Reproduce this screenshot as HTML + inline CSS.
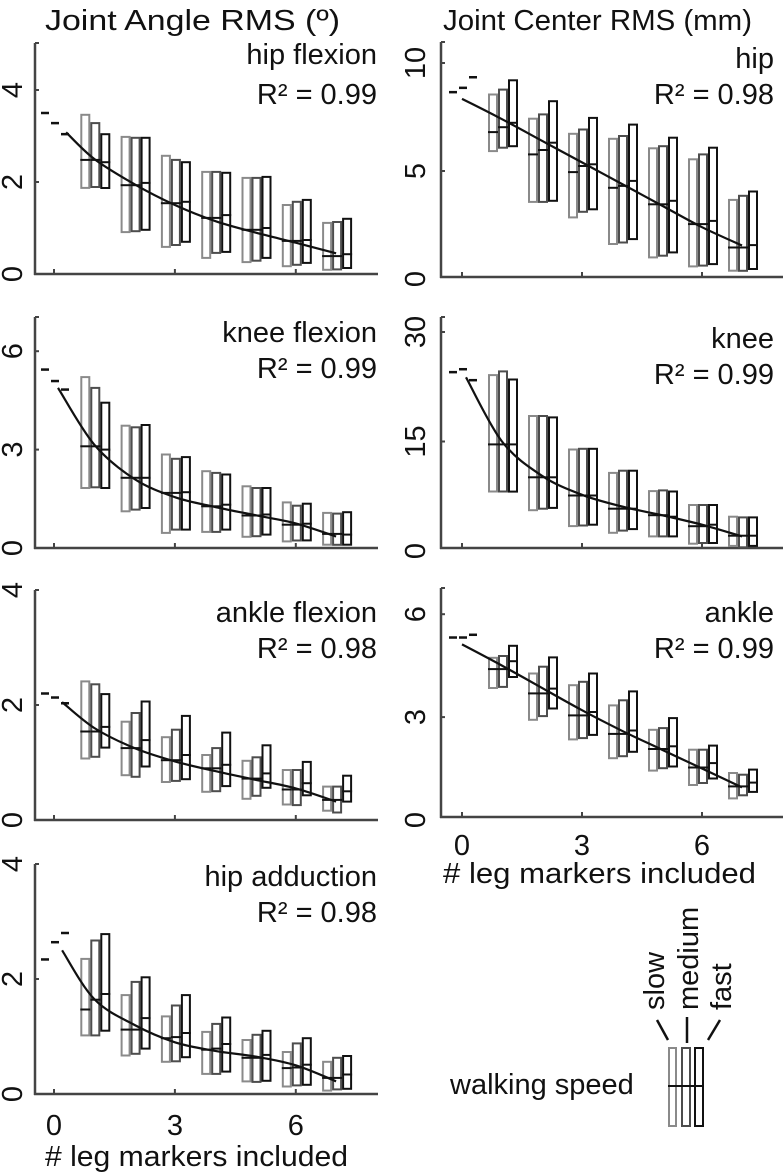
<!DOCTYPE html>
<html><head><meta charset="utf-8">
<style>
html,body{margin:0;padding:0;background:#fff;}
svg{display:block;font-family:"Liberation Sans",Arial,sans-serif;}
</style></head>
<body>
<svg id="fig" width="784" height="1173" viewBox="0 0 784 1173" xmlns="http://www.w3.org/2000/svg">
<text x="45" y="30" font-size="29" textLength="295" lengthAdjust="spacingAndGlyphs" fill="#111">Joint Angle RMS (º)</text>
<text x="443" y="30" font-size="29" textLength="309" lengthAdjust="spacingAndGlyphs" fill="#111">Joint Center RMS (mm)</text>
<g id="panels"></g>
<g>
  <text x="450" y="1094" font-size="29" fill="#111">walking speed</text>
  <rect x="669" y="1048" width="7" height="78" fill="none" stroke="#8a8a8a" stroke-width="2"/>
  <rect x="682" y="1048" width="8" height="78" fill="none" stroke="#4d4d4d" stroke-width="2"/>
  <rect x="695" y="1048" width="8" height="78" fill="none" stroke="#111" stroke-width="2"/>
  <line x1="668" y1="1086" x2="704" y2="1086" stroke="#111" stroke-width="2"/>
  <line x1="657" y1="1020" x2="668" y2="1040" stroke="#111" stroke-width="2.5"/>
  <line x1="687" y1="1017" x2="687" y2="1043" stroke="#111" stroke-width="2.5"/>
  <line x1="720" y1="1020" x2="708" y2="1040" stroke="#111" stroke-width="2.5"/>
  <text transform="translate(664,1010) rotate(-90)" font-size="29" fill="#111">slow</text>
  <text transform="translate(698,1010) rotate(-90)" font-size="29" fill="#111">medium</text>
  <text transform="translate(731,1010) rotate(-90)" font-size="29" fill="#111">fast</text>
</g>
</svg>
<script>
// ---- data: [low, high, median] per marker count 1..7 ----
const groups = [1,2,3,4,5,6,7];
const hipFlexSlow = [[1.87,3.46,2.48],[0.91,2.98,1.93],[0.59,2.57,1.54],[0.35,2.22,1.22],[0.26,2.09,0.96],[0.17,1.50,0.72],[0.09,1.11,0.39]];
const hipFlexMed  = [[1.89,3.28,2.48],[0.93,2.96,1.93],[0.63,2.48,1.54],[0.46,2.22,1.22],[0.29,2.09,0.96],[0.20,1.57,0.72],[0.10,1.13,0.39]];
const hipFlexFast = [[1.87,3.04,2.43],[0.96,2.96,1.98],[0.70,2.43,1.57],[0.48,2.20,1.28],[0.35,2.11,1.00],[0.24,1.61,0.74],[0.13,1.20,0.43]];
const hipFlexZero = [3.50,3.28,3.04];
const hipFlexFitX = [0.3,1,2,3,4,5,6,7];
const hipFlexFit  = [3.08,2.5,1.95,1.5,1.15,0.9,0.68,0.45];

const kneeFlexSlow = [[1.83,5.21,3.10],[1.12,3.73,2.14],[0.46,2.85,1.68],[0.49,2.34,1.27],[0.34,1.88,0.99],[0.20,1.39,0.71],[0.10,1.07,0.43]];
const kneeFlexMed  = [[1.85,4.88,3.10],[1.17,3.68,2.14],[0.56,2.72,1.68],[0.49,2.29,1.27],[0.36,1.83,0.99],[0.23,1.29,0.71],[0.10,1.05,0.43]];
const kneeFlexFast = [[1.83,4.43,3.00],[1.22,3.75,2.14],[0.56,2.77,1.70],[0.56,2.24,1.32],[0.41,1.83,1.02],[0.23,1.35,0.74],[0.10,1.09,0.41]];
const kneeFlexZero = [5.44,5.09,4.83];
const kneeFlexFitX = [0.1,1,2,3,4,5,6,7];
const kneeFlexFit  = [4.88,3.15,2.1,1.55,1.25,1.0,0.75,0.35];

const ankleFlexSlow = [[1.07,2.41,1.54],[0.78,1.71,1.25],[0.66,1.44,1.04],[0.49,1.13,0.90],[0.37,1.03,0.72],[0.27,0.87,0.53],[0.16,0.58,0.35]];
const ankleFlexMed  = [[1.10,2.36,1.54],[0.75,1.86,1.25],[0.68,1.57,1.04],[0.50,1.25,0.90],[0.42,1.09,0.72],[0.26,0.87,0.53],[0.13,0.58,0.35]];
const ankleFlexFast = [[1.26,2.19,1.62],[0.93,2.06,1.39],[0.71,1.81,1.13],[0.59,1.52,0.96],[0.56,1.30,0.81],[0.43,1.01,0.64],[0.32,0.77,0.50]];
const ankleFlexZero = [2.20,2.13,2.03];
const ankleFlexFitX = [0.2,1,2,3,4,5,6,7];
const ankleFlexFit  = [2.05,1.6,1.25,1.02,0.85,0.7,0.55,0.32];

const hipAddSlow = [[1.02,2.35,1.47],[0.67,1.72,1.12],[0.56,1.35,0.97],[0.35,1.08,0.77],[0.22,0.94,0.63],[0.13,0.73,0.45],[0.06,0.56,0.28]];
const hipAddMed  = [[1.02,2.67,1.64],[0.70,1.95,1.12],[0.57,1.54,0.99],[0.35,1.22,0.79],[0.21,1.03,0.63],[0.15,0.88,0.46],[0.08,0.63,0.28]];
const hipAddFast = [[1.10,2.78,1.74],[0.79,2.03,1.32],[0.64,1.72,1.06],[0.39,1.33,0.87],[0.23,1.10,0.68],[0.16,0.97,0.51],[0.09,0.66,0.34]];
const hipAddZero = [2.34,2.64,2.80];
const hipAddFitX = [0.2,1,2,3,4,5,6,7];
const hipAddFit  = [2.5,1.65,1.2,0.9,0.75,0.65,0.5,0.22];

const hipJcSlow = [[5.92,8.54,6.80],[3.57,7.42,5.77],[2.85,6.72,4.95],[1.62,6.49,4.22],[1.00,6.05,3.46],[0.58,5.54,2.54],[0.38,3.66,1.46]];
const hipJcMed  = [[6.08,8.77,7.03],[3.57,7.62,5.97],[3.11,6.92,5.23],[1.69,6.62,4.31],[1.08,6.15,3.46],[0.62,5.77,2.54],[0.38,3.85,1.46]];
const hipJcFast = [[6.15,9.20,7.23],[3.62,8.23,6.31],[3.23,7.46,5.31],[1.85,7.15,4.54],[1.23,6.54,3.62],[0.69,6.08,2.69],[0.46,4.05,1.57]];
const hipJcZero = [8.65,8.85,9.34];
const hipJcFitX = [0,1,2,3,4,5,6,7];
const hipJcFit  = [8.34,7.4,6.4,5.4,4.4,3.4,2.4,1.55];

const kneeJcSlow = [[8.15,24.1,14.6],[5.6,18.5,10.1],[3.4,13.9,7.6],[2.5,10.7,5.8],[2.0,8.2,4.9],[1.0,6.3,3.4],[0.7,4.7,2.1]];
const kneeJcMed  = [[8.15,24.6,14.6],[5.8,18.5,10.1],[3.5,14.0,7.6],[2.8,11.0,5.8],[2.0,8.3,4.9],[1.1,6.3,3.4],[0.5,4.6,2.1]];
const kneeJcFast = [[8.15,23.5,14.6],[5.9,18.3,10.1],[3.6,14.0,7.6],[3.0,11.0,5.8],[2.0,8.15,4.7],[1.1,6.3,3.6],[0.7,4.6,2.1]];
const kneeJcZero = [24.5,24.9,23.4];
const kneeJcFitX = [0.1,1,2,3,4,5,6,7];
const kneeJcFit  = [23.8,15.0,10.3,7.7,6.1,4.9,3.6,2.0];

const ankleJcSlow = [[3.85,4.73,4.40],[2.92,4.27,3.69],[2.35,3.93,3.05],[1.80,3.34,2.51],[1.44,2.63,2.07],[1.02,2.05,1.53],[0.63,1.37,0.98]];
const ankleJcMed  = [[3.88,4.78,4.40],[3.03,4.47,3.69],[2.39,4.03,3.05],[1.86,3.49,2.51],[1.51,2.68,2.07],[1.08,2.05,1.53],[0.72,1.32,0.98]];
const ankleJcFast = [[4.17,5.08,4.63],[3.25,4.74,3.83],[2.48,4.27,3.15],[1.99,3.75,2.61],[1.56,2.97,2.15],[1.21,2.17,1.66],[0.82,1.47,1.09]];
const ankleJcZero = [5.32,5.32,5.40];
const ankleJcFitX = [0,1,2,3,4,5,6,7];
const ankleJcFit  = [5.12,4.5,3.85,3.2,2.6,2.05,1.5,0.95];

const xTicks = [0,3,6];
const tickHipFlex = [0,2,4];
const tickKneeFlex = [0,3,6];
const tickAnkleFlex = [0,2,4];
const tickHipAdd = [0,2,4];
const tickHipJc = [0,5,10];
const tickKneeJc = [0,15,30];
const tickAnkleJc = [0,3,6];

// ---- layout (not data) ----
const L = {x0:54, ux:40.3, axX:35, xEnd:378, tickLx:22, labR:377, tStart:45, tLen:303};
const R = {x0:462, ux:40, axX:441, xEnd:783, tickLx:425, labR:774, tStart:443, tLen:313};
const panels = [
 {id:'hip-flexion', col:L, y0:274, uy:46, top:43, axY:274, ticks:tickHipFlex, s:hipFlexSlow, m:hipFlexMed, f:hipFlexFast, z:hipFlexZero, fx:hipFlexFitX, fy:hipFlexFit, name:'hip flexion', r2:'R² = 0.99', b1:64, b2:104},
 {id:'knee-flexion', col:L, y0:548, uy:32.8, top:317, axY:548, ticks:tickKneeFlex, s:kneeFlexSlow, m:kneeFlexMed, f:kneeFlexFast, z:kneeFlexZero, fx:kneeFlexFitX, fy:kneeFlexFit, name:'knee flexion', r2:'R² = 0.99', b1:342, b2:378},
 {id:'ankle-flexion', col:L, y0:820, uy:57.5, top:590, axY:820, ticks:tickAnkleFlex, s:ankleFlexSlow, m:ankleFlexMed, f:ankleFlexFast, z:ankleFlexZero, fx:ankleFlexFitX, fy:ankleFlexFit, name:'ankle flexion', r2:'R² = 0.98', b1:622, b2:658},
 {id:'hip-adduction', col:L, y0:1094, uy:57.5, top:864, axY:1094, ticks:tickHipAdd, s:hipAddSlow, m:hipAddMed, f:hipAddFast, z:hipAddZero, fx:hipAddFitX, fy:hipAddFit, name:'hip adduction', r2:'R² = 0.98', b1:886, b2:922, xlab:{ty:1135, ly:1166}},
 {id:'hip-center', col:R, y0:279, uy:21.6, top:42, axY:277, ticks:tickHipJc, s:hipJcSlow, m:hipJcMed, f:hipJcFast, z:hipJcZero, fx:hipJcFitX, fy:hipJcFit, name:'hip', r2:'R² = 0.98', b1:68, b2:104},
 {id:'knee-center', col:R, y0:551, uy:7.3, top:317, axY:548, ticks:tickKneeJc, s:kneeJcSlow, m:kneeJcMed, f:kneeJcFast, z:kneeJcZero, fx:kneeJcFitX, fy:kneeJcFit, name:'knee', r2:'R² = 0.99', b1:348, b2:384},
 {id:'ankle-center', col:R, y0:820, uy:34.3, top:588, axY:817, ticks:tickAnkleJc, s:ankleJcSlow, m:ankleJcMed, f:ankleJcFast, z:ankleJcZero, fx:ankleJcFitX, fy:ankleJcFit, name:'ankle', r2:'R² = 0.99', b1:622, b2:658, xlab:{ty:855, ly:883}}
];
const NS='http://www.w3.org/2000/svg';
const root=document.getElementById('panels');
function mk(tag, attrs, parent){const e=document.createElementNS(NS,tag);for(const k in attrs)e.setAttribute(k,attrs[k]);parent.appendChild(e);return e;}
const speedColors=['#8a8a8a','#4d4d4d','#111111'];
const speedNames=['slow','medium','fast'];
const offs=[-9,1,11];
const BW=8;
function catmull(pts){
  let d='M'+pts[0][0].toFixed(1)+','+pts[0][1].toFixed(1);
  for(let i=0;i<pts.length-1;i++){
    const p0=pts[Math.max(0,i-1)],p1=pts[i],p2=pts[i+1],p3=pts[Math.min(pts.length-1,i+2)];
    const c1=[p1[0]+(p2[0]-p0[0])/6,p1[1]+(p2[1]-p0[1])/6];
    const c2=[p2[0]-(p3[0]-p1[0])/6,p2[1]-(p3[1]-p1[1])/6];
    d+=' C'+c1[0].toFixed(1)+','+c1[1].toFixed(1)+' '+c2[0].toFixed(1)+','+c2[1].toFixed(1)+' '+p2[0].toFixed(1)+','+p2[1].toFixed(1);
  }
  return d;
}
panels.forEach(p=>{
  const c=p.col;
  const xs=v=>c.x0+v*c.ux;
  const ys=v=>p.y0-v*p.uy;
  const g=mk('g',{},root);
  
  
  const ya=mk('line',{x1:c.axX,y1:p.top,x2:c.axX,y2:p.axY+1,stroke:'#444','stroke-width':2.5},g);
  
  
  const xa=mk('line',{x1:c.axX-1,y1:p.axY,x2:c.xEnd,y2:p.axY,stroke:'#444','stroke-width':2.5},g);
  
  
  p.ticks.forEach(t=>{
    const y=ys(t);
    if(t>0) mk('line',{x1:c.axX,y1:y,x2:c.axX+4,y2:y,stroke:'#444','stroke-width':2},g);
    const tl=mk('text',{transform:'translate('+c.tickLx+','+y.toFixed(1)+') rotate(-90)','font-size':29,'text-anchor':'middle',fill:'#111'},g);
    tl.textContent=t;
    
    
  });
  mk('line',{x1:c.axX,y1:p.top,x2:c.axX+4,y2:p.top,stroke:'#444','stroke-width':2},g);
  xTicks.forEach(t=>{
    const x=xs(t);
    mk('line',{x1:x,y1:p.axY,x2:x,y2:p.axY-5,stroke:'#444','stroke-width':2},g);
    if(p.xlab){
      const xl=mk('text',{x:x,y:p.xlab.ty,'font-size':29,'text-anchor':'middle',fill:'#111'},g);
      xl.textContent=t;
      
      
    }
  });
  if(p.xlab){
    const xt=mk('text',{x:c.tStart,y:p.xlab.ly,'font-size':29,textLength:c.tLen,lengthAdjust:'spacingAndGlyphs',fill:'#111'},g);
    xt.textContent='# leg markers included';
    
    
  }
  p.z.forEach((v,k)=>{
    const x=xs(0)+offs[k];
    const d=mk('line',{x1:x-4,y1:ys(v),x2:x+4,y2:ys(v),stroke:'#111','stroke-width':2.5},g);
    
    
  });
  [p.s,p.m,p.f].forEach((arr,k)=>{
    arr.forEach((b,i)=>{
      const xc=xs(groups[i])+offs[k];
      const r=mk('rect',{x:(xc-BW/2).toFixed(1),y:ys(b[1]).toFixed(1),width:BW,height:(ys(b[0])-ys(b[1])).toFixed(1),fill:'none',stroke:speedColors[k],'stroke-width':2},g);
      
      
      const md=mk('line',{x1:xc-BW/2-1,y1:ys(b[2]).toFixed(1),x2:xc+BW/2+1,y2:ys(b[2]).toFixed(1),stroke:'#111','stroke-width':2},g);
      
      
    });
  });
  const pts=p.fx.map((v,i)=>[xs(v),ys(p.fy[i])]);
  const fc=mk('path',{d:catmull(pts),fill:'none',stroke:'#111','stroke-width':2.2},g);
  
  
  const t1=mk('text',{x:c.labR,y:p.b1,'font-size':29,'text-anchor':'end',fill:'#111'},g);
  t1.textContent=p.name;
  
  
  const t2=mk('text',{x:c.labR,y:p.b2,'font-size':29,'text-anchor':'end',fill:'#111'},g);
  t2.textContent=p.r2;
  
  
});
</script>
</body></html>
